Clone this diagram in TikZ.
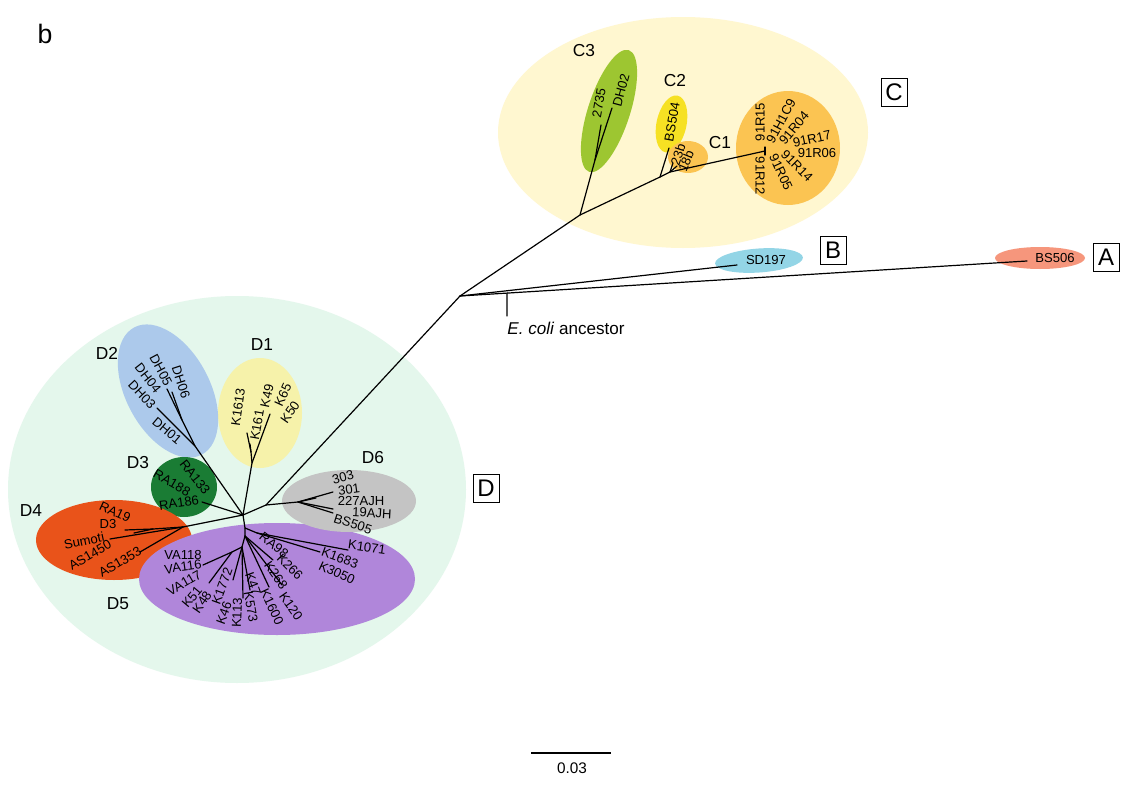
\documentclass[tikz,border=0pt]{standalone}
\usepackage{fontspec}
\setmainfont{Liberation Sans}
\usetikzlibrary{calc}
\newcommand\PX{0.75pt}
\definecolor{cBig}{RGB}{255,247,208}
\definecolor{cCthree}{RGB}{157,198,49}
\definecolor{cCtwo}{RGB}{246,225,35}
\definecolor{cCone}{RGB}{251,196,82}
\definecolor{cB}{RGB}{147,213,230}
\definecolor{cA}{RGB}{246,150,124}
\definecolor{dBig}{RGB}{228,247,236}
\definecolor{cDone}{RGB}{246,242,170}
\definecolor{cDtwo}{RGB}{172,201,235}
\definecolor{cDthree}{RGB}{26,124,52}
\definecolor{cDfour}{RGB}{233,83,26}
\definecolor{cDfive}{RGB}{176,134,218}
\definecolor{cDsix}{RGB}{196,196,196}
\tikzset{
  leaf/.style={inner sep=0pt, font=\fontsize{9.8}{11}\selectfont},
  grp/.style={inner sep=0pt, font=\fontsize{13}{15}\selectfont},
  clade/.style={draw, line width=0.7pt, inner sep=0pt, minimum width=19.5pt, minimum height=21pt, font=\fontsize{18}{20}\selectfont},
  br/.style={line width=0.9pt, line cap=round, line join=round},
}
\begin{document}
\begin{tikzpicture}[x=0.75pt,y=-0.75pt]
\useasboundingbox[fill=white] (0,0) rectangle (1129,785);
% ---------- background ellipses ----------
\fill[cBig] (683,132.5) ellipse [x radius=185*\PX, y radius=115.5*\PX];
\fill[dBig] (237,489.5) ellipse [x radius=229*\PX, y radius=193.5*\PX];
\fill[cCthree, rotate around={72:(609,111)}] (609,111) ellipse [x radius=64*\PX, y radius=21*\PX];
\fill[cCtwo, rotate around={78:(671.5,124)}] (671.5,124) ellipse [x radius=29*\PX, y radius=15*\PX];
\fill[cCone] (688,157) ellipse [x radius=20*\PX, y radius=16*\PX];
\fill[cCone] (788,148) ellipse [x radius=52*\PX, y radius=57*\PX];
\fill[cB, rotate around={4:(759,260.5)}] (759,260.5) ellipse [x radius=44*\PX, y radius=12*\PX];
\fill[cA] (1040,258) ellipse [x radius=45*\PX, y radius=11*\PX];
\fill[cDone] (260,413) ellipse [x radius=42*\PX, y radius=55*\PX];
\fill[cDtwo, rotate around={-62:(168,391)}] (168,391) ellipse [x radius=72*\PX, y radius=42*\PX];
\fill[cDthree] (184,487) ellipse [x radius=33*\PX, y radius=30*\PX];
\fill[cDfour] (114,540) ellipse [x radius=78*\PX, y radius=40*\PX];
\fill[cDfive] (277,579) ellipse [x radius=138*\PX, y radius=56*\PX];
\fill[cDsix] (349,501) ellipse [x radius=67*\PX, y radius=31*\PX];
% ---------- tree coordinates ----------
\coordinate (root) at (460,296);
\coordinate (cRoot) at (580,215);
\coordinate (c3) at (595,160);
\coordinate (e2735) at (601,125);
\coordinate (eDH02) at (612,108);
\coordinate (c12) at (660,177);
\coordinate (eBS504) at (669,148);
\coordinate (c1a) at (670,172);
\coordinate (e23b) at (673,163);
\coordinate (e18b) at (677,166);
\coordinate (c1c) at (765,151);
\coordinate (c1t) at (765,147);
\coordinate (c1b) at (765,155);
\coordinate (eSD197) at (737,265);
\coordinate (eBS506) at (1027,261);
\coordinate (ecoli) at ($(root)!0.083!(eBS506)$);
\coordinate (ecolib) at (507,316);
% D
\coordinate (dTop) at (266,505);
\coordinate (dHub) at (243,515);
\coordinate (d6) at (298,502);
\coordinate (e303) at (333,492);
\coordinate (e301) at (316,498);
\coordinate (e19) at (333,509);
\coordinate (eBS505) at (333,513);
\coordinate (d1) at (252,463);
\coordinate (d1a) at (251,452);
\coordinate (eK1613) at (247,433);
\coordinate (eK161) at (250,444);
\coordinate (eK49) at (270,414);
\coordinate (d2) at (195,446);
\coordinate (d2a) at (182,420);
\coordinate (eDH05) at (167,389);
\coordinate (eDH06) at (172,392);
\coordinate (eDH03) at (157,408);
\coordinate (eRA186) at (202,502);
\coordinate (d4) at (183,527);
\coordinate (d4a) at (153,529);
\coordinate (eD3) at (125,530);
\coordinate (eRA19) at (134,533);
\coordinate (eSum) at (110,539);
\coordinate (eAS) at (140,552);
\coordinate (d5a) at (245,528);
\coordinate (d5r) at (257,533);
\coordinate (eK1071) at (348,550);
\coordinate (eK1683) at (320,552);
\coordinate (d5m) at (245,536);
\coordinate (eRA98) at (273,560);
\coordinate (eK120) at (282,585);
\coordinate (eK1600) at (269,587);
\coordinate (d5b) at (242,547);
\coordinate (eK47) at (250,590);
\coordinate (eK113) at (243,598);
\coordinate (eK1772) at (233,580);
\coordinate (d5v) at (232,552);
\coordinate (eVA116) at (203,565);
\coordinate (eVA117) at (209,583);
% ---------- branches ----------
\draw[br] (root) -- (cRoot) -- (c3) -- (e2735);
\draw[br] (c3) -- (eDH02);
\draw[br] (cRoot) -- (c12) -- (eBS504);
\draw[br] (c12) -- (c1a) -- (c1c);
\draw[br] (c1a) -- (e23b);
\draw[br] (c1a) -- (e18b);
\draw[br] (c1t) -- (c1b);
\draw[br] (root) -- (eSD197);
\draw[br] (root) -- (eBS506);
\draw[br] (ecoli) -- (ecolib);
\draw[br] (root) -- (dTop) -- (dHub);
\draw[br] (dTop) -- (d6) -- (e303);
\draw[br] (d6) -- (e301);
\draw[br] (d6) -- (e19);
\draw[br] (d6) -- (eBS505);
\draw[br] (dHub) -- (d1) -- (d1a) -- (eK1613);
\draw[br] (d1a) -- (eK161);
\draw[br] (d1) -- (eK49);
\draw[br] (dHub) -- (d2) -- (d2a) -- (eDH05);
\draw[br] (d2a) -- (eDH06);
\draw[br] (d2) -- (eDH03);
\draw[br] (dHub) -- (eRA186);
\draw[br] (dHub) -- (d4) -- (d4a) -- (eD3);
\draw[br] (d4a) -- (eRA19);
\draw[br] (d4) -- (eSum);
\draw[br] (d4) -- (eAS);
\draw[br] (dHub) -- (d5a) -- (d5r) -- (eK1071);
\draw[br] (d5r) -- (eK1683);
\draw[br] (d5a) -- (d5m) -- (eRA98);
\draw[br] (d5m) -- (eK120);
\draw[br] (d5m) -- (eK1600);
\draw[br] (d5m) -- (d5b) -- (eK47);
\draw[br] (d5b) -- (eK113);
\draw[br] (d5b) -- (eK1772);
\draw[br] (d5b) -- (d5v) -- (eVA116);
\draw[br] (d5v) -- (eVA117);
% ---------- labels: C ----------
\node[leaf, rotate=80] (l2735) at (599,103) {2735};
\node[leaf, rotate=75] (lDH02) at (621,90) {DH02};
\node[leaf, rotate=80] (lBS504) at (672,122) {BS504};
\node[leaf, rotate=72] (l23b) at (678,155) {23b};
\node[leaf, rotate=68] (l18b) at (686,161) {18b};
\node[leaf, rotate=90] (l91R15) at (760,122) {91R15};
\node[leaf, rotate=62] (l91H1C9) at (781,121) {91H1C9};
\node[leaf, rotate=50] (l91R04) at (794,128) {91R04};
\node[leaf, rotate=12] (l91R17) at (812,139) {91R17};
\node[leaf] (l91R06) at (817,153) {91R06};
\node[leaf, rotate=-45] (l91R14) at (797,166) {91R14};
\node[leaf, rotate=-65] (l91R05) at (781,172) {91R05};
\node[leaf, rotate=-90] (l91R12) at (760,176) {91R12};
\node[grp] (gC3) at (584,51) {C3};
\node[grp] (gC2) at (675,81) {C2};
\node[grp] (gC1) at (720,143) {C1};
\node[clade] (bC) at (894,92) {C};
% ---------- labels: A, B ----------
\node[leaf] (lSD197) at (766,260) {SD197};
\node[leaf] (lBS506) at (1055,258) {BS506};
\node[clade] (bB) at (833,250) {B};
\node[clade] (bA) at (1106,257) {A};
\node[inner sep=0pt, font=\fontsize{12.8}{14}\selectfont] (lecoli) at (566,328) {\textit{E. coli} ancestor};
% ---------- labels: D ----------
\node[leaf, rotate=82] (lK1613) at (238,407) {K1613};
\node[leaf, rotate=80] (lK161) at (257,425) {K161};
\node[leaf, rotate=78] (lK49) at (267,396) {K49};
\node[leaf, rotate=65] (lK65) at (283,395) {K65};
\node[leaf, rotate=55] (lK50) at (290,412) {K50};
\node[leaf, rotate=-72] (lDH06) at (181,382) {DH06};
\node[leaf, rotate=-62] (lDH05) at (161,370) {DH05};
\node[leaf, rotate=-52] (lDH04) at (148,378) {DH04};
\node[leaf, rotate=-47] (lDH03) at (142,395) {DH03};
\node[leaf, rotate=-40] (lDH01) at (167,431) {DH01};
\node[leaf, rotate=-52] (lRA133) at (195,477) {RA133};
\node[leaf, rotate=-30] (lRA188) at (172,483) {RA188};
\node[leaf, rotate=8] (lRA186) at (179,503) {RA186};
\node[leaf, rotate=-25] (lRA19) at (115,512) {RA19};
\node[leaf] (lD3) at (108,524) {D3};
\node[leaf, rotate=12] (lSumoti) at (84,541) {Sumoti};
\node[leaf, rotate=30] (lAS1450) at (90,555) {AS1450};
\node[leaf, rotate=30] (lAS1353) at (120,562) {AS1353};
\node[leaf, rotate=15] (l303) at (343,477) {303};
\node[leaf, rotate=8] (l301) at (349,490) {301};
\node[leaf] (l227AJH) at (361,501) {227AJH};
\node[leaf, rotate=-3] (l19AJH) at (372,513) {19AJH};
\node[leaf, rotate=-18] (lBS505) at (353,524) {BS505};
\node[leaf, rotate=-38] (lRA98) at (274,545) {RA98};
\node[leaf, rotate=-45] (lK266) at (290,567) {K266};
\node[leaf, rotate=-55] (lK268) at (276,575) {K268};
\node[leaf, rotate=-55] (lK120) at (291,606) {K120};
\node[leaf, rotate=-65] (lK1600) at (272,607) {K1600};
\node[leaf, rotate=-70] (lK47) at (253,584) {K47};
\node[leaf, rotate=-80] (lK573) at (251,607) {K573};
\node[leaf, rotate=88] (lK113) at (237,613) {K113};
\node[leaf, rotate=70] (lK46) at (224,613) {K46};
\node[leaf, rotate=70] (lK1772) at (222,586) {K1772};
\node[leaf, rotate=55] (lK48) at (202,602) {K48};
\node[leaf, rotate=50] (lK51) at (192,597) {K51};
\node[leaf, rotate=30] (lVA117) at (184,583) {VA117};
\node[leaf, rotate=8] (lVA116) at (183,567) {VA116};
\node[leaf] (lVA118) at (183,555) {VA118};
\node[leaf, rotate=-8] (lK1071) at (367,547) {K1071};
\node[leaf, rotate=-20] (lK1683) at (340,558) {K1683};
\node[leaf, rotate=-25] (lK3050) at (337,573) {K3050};
\node[grp] (gD1) at (262,345) {D1};
\node[grp] (gD2) at (107,353) {D2};
\node[grp] (gD3) at (138,463) {D3};
\node[grp] (gD4) at (31,511) {D4};
\node[grp] (gD5) at (118,604) {D5};
\node[grp] (gD6) at (373,458) {D6};
\node[clade] (bD) at (486,488) {D};
% ---------- panel letter & scale bar ----------
\node[inner sep=0pt, font=\fontsize{20}{22}\selectfont] (panel) at (45,34) {b};
\coordinate (sbA) at (531,753);
\coordinate (sbB) at (611,753);
\draw[line width=0.8pt] (sbA) -- (sbB);
\node[inner sep=0pt, font=\fontsize{11.5}{13}\selectfont] (sbl) at (572,768) {0.03};
\end{tikzpicture}
\end{document}
